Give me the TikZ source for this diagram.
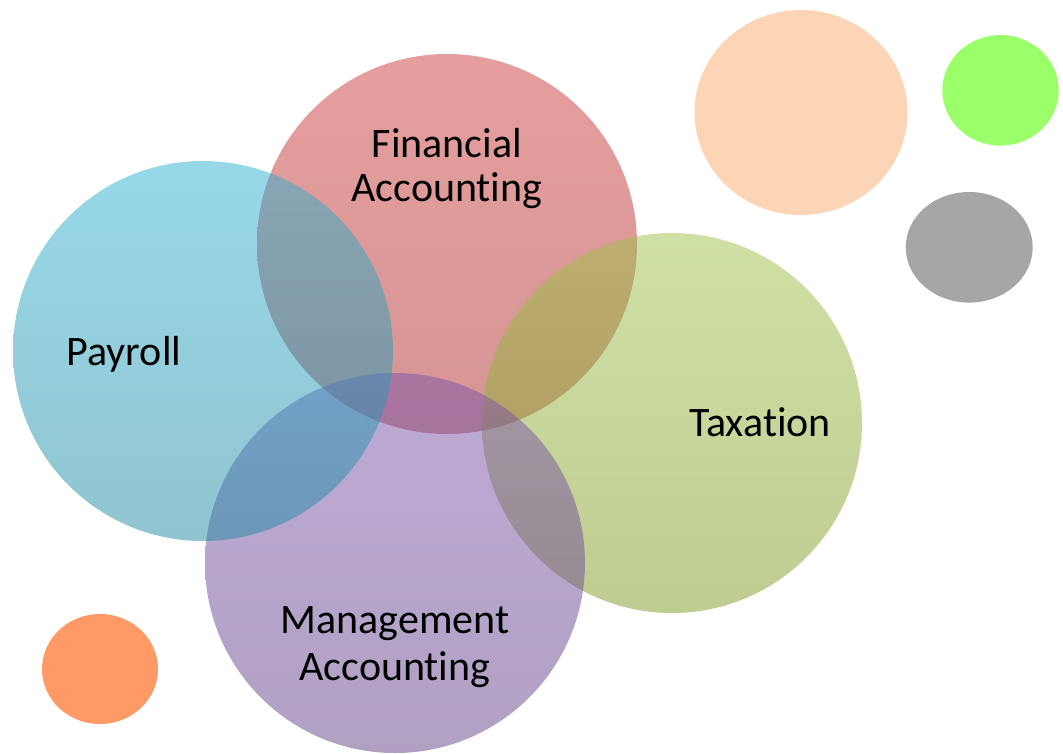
\documentclass[tikz,border=0pt]{standalone}
\usepackage{fontspec}
\setmainfont[Ligatures={NoCommon}]{Carlito}
\definecolor{finTop}{RGB}{205,60,60}
\definecolor{finBot}{RGB}{172,44,44}
\definecolor{taxTop}{RGB}{160,194,74}
\definecolor{taxBot}{RGB}{128,154,36}
\definecolor{mgtTop}{RGB}{124,86,172}
\definecolor{mgtBot}{RGB}{98,66,134}
\definecolor{payTop}{RGB}{48,178,210}
\definecolor{payBot}{RGB}{36,136,162}
\definecolor{peach}{RGB}{251,213,181}
\definecolor{lime}{RGB}{155,255,106}
\definecolor{greyb}{RGB}{166,166,166}
\definecolor{orangeb}{RGB}{255,153,102}
\tikzset{
  venn/.style={fill opacity=0.5},
  lbl/.style={anchor=base, inner sep=0pt, font=\fontsize{42}{47}\selectfont, text=black}
}
\begin{document}
\begin{tikzpicture}[x=1pt,y=-1pt]
\useasboundingbox (0,0) rectangle (1063,753);
% decorative ellipses
\fill[peach] (801,112.5) ellipse [x radius=106.5, y radius=102.5];
\fill[lime] (1000.5,90.3) ellipse [x radius=58.2, y radius=55.3];
\fill[greyb] (969.2,247.3) ellipse [x radius=63.5, y radius=55.3];
\fill[orangeb] (100,669) ellipse [x radius=58, y radius=55];
% venn circles
\shade[venn, top color=finTop, bottom color=finBot] (447,244) circle [radius=190];
\shade[venn, top color=taxTop, bottom color=taxBot] (672,423) circle [radius=190];
\shade[venn, top color=mgtTop, bottom color=mgtBot] (395,563) circle [radius=190];
\shade[venn, top color=payTop, bottom color=payBot] (203,351) circle [radius=190];
% labels
\node[lbl] (fin1) at (447,157) {Financial};
\node[lbl] (fin2) at (447,201) {Accounting};
\node[lbl] (pay) at (124,365) {Payroll};
\node[lbl] (tax) at (760,436) {Taxation};
\node[lbl] (mgt1) at (395,633) {Management};
\node[lbl] (mgt2) at (395,680) {Accounting};
\end{tikzpicture}
\end{document}
